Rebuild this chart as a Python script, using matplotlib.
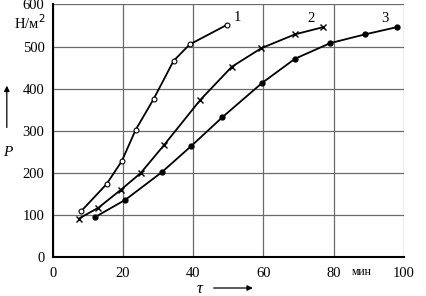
import matplotlib.pyplot as plt

# curve 1: open circles
t1 = [8, 15.3, 19.6, 23.6, 28.7, 34.4, 39.0, 49.7]
p1 = [108, 173, 227, 302, 375, 466, 505, 552]
# curve 2: crosses
t2 = [7.4, 13, 19.3, 25, 31.6, 42, 51, 59.4, 69, 77]
p2 = [91, 117, 159, 199, 265, 373, 452, 496, 529, 546]
# curve 3: filled dots
t3 = [11.9, 20.7, 31, 39.5, 48.3, 59.7, 69, 79, 89, 98]
p3 = [94, 136, 201, 264, 332, 414, 471, 508, 529, 546]

x_ticks = [0, 20, 40, 60, 80, 100]
y_ticks = [0, 100, 200, 300, 400, 500, 600]

plt.rcParams["font.family"] = ["Liberation Serif", "DejaVu Serif"]

fig = plt.figure(figsize=(4.26, 2.96), dpi=100)
ax = fig.add_axes([0.124, 0.132, 0.824, 0.853])

ax.plot(t1, p1, "-", color="black", lw=1.3, marker="o", ms=3.5,
        mfc="white", mec="black", mew=0.8)
ax.plot(t2, p2, "-", color="black", lw=1.3, marker="x", ms=4, mew=1)
ax.plot(t3, p3, "-", color="black", lw=1.3, marker="o", ms=3.5,
        mfc="black", mec="black")

ax.text(51.5, 553, "1", fontsize=10.5, va="bottom")
ax.text(72.5, 550, "2", fontsize=10.5, va="bottom")
ax.text(93.5, 550, "3", fontsize=10.5, va="bottom")

ax.set_xlim(0, 100)
ax.set_ylim(0, 600)
ax.set_xticks(x_ticks)
ax.set_yticks(y_ticks)
ax.set_xticklabels(["0", "20", "40", "60", "80", "100"], fontsize=10.5)
ax.set_yticklabels(["0", "100", "200", "300", "400", "500", "600"], fontsize=10.5)
ax.tick_params(axis="x", length=0, pad=7)
ax.tick_params(axis="y", length=0, pad=6)
ax.grid(True, color="#6a6a6a", lw=0.9)
ax.set_axisbelow(True)
for s in ["top", "right"]:
    ax.spines[s].set_visible(False)
for s in ["left", "bottom"]:
    ax.spines[s].set_linewidth(1.5)

ax.text(88, -36, "мин", fontsize=8.5, ha="center", va="center")
fig.text(0.033, 0.925, "Н/м$^2$", fontsize=10.5, ha="left", va="center")

# axis names with arrows
fig.text(0.008, 0.485, "P", fontsize=11, style="italic", ha="left", va="center")
ax.annotate("", xy=(0.016, 0.72), xytext=(0.016, 0.56), xycoords="figure fraction",
            arrowprops=dict(arrowstyle="-|>", color="black", lw=0.9, mutation_scale=8))
fig.text(0.462, 0.022, "τ", fontsize=12, style="italic", ha="left", va="center")
ax.annotate("", xy=(0.6, 0.027), xytext=(0.495, 0.027), xycoords="figure fraction",
            arrowprops=dict(arrowstyle="-|>", color="black", lw=0.9, mutation_scale=8))

fig.savefig("out.png", dpi=100)
